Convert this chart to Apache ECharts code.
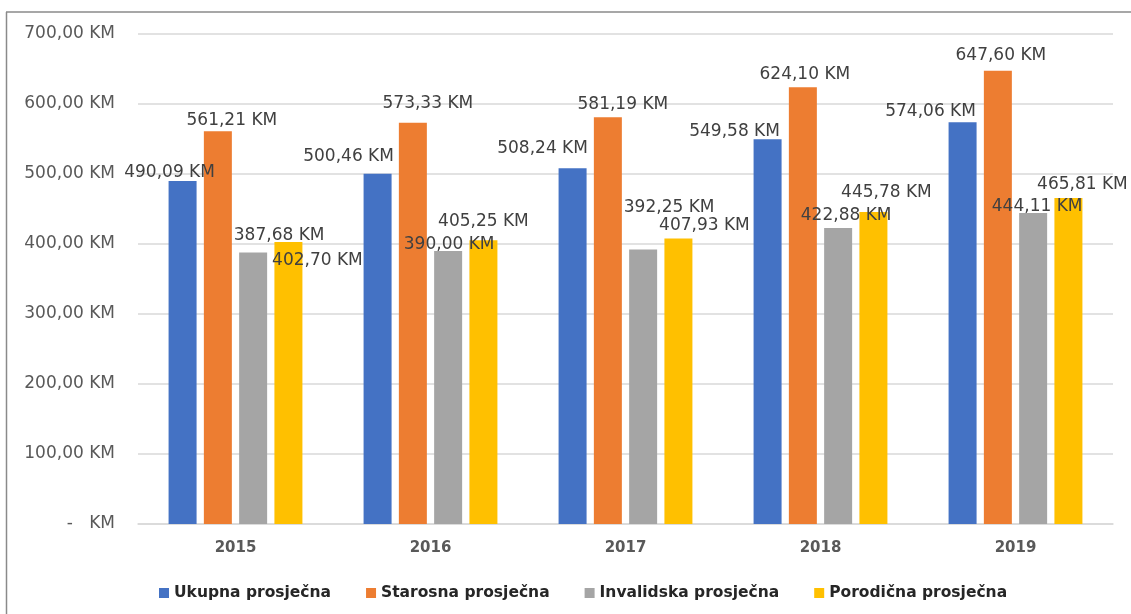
<!DOCTYPE html>
<html>
<head>
<meta charset="utf-8">
<script src="https://cdn.jsdelivr.net/npm/echarts@6/dist/echarts.min.js"></script>
<style>
html,body{margin:0;padding:0;background:#fff;}
#chart{width:1131px;height:614px;}
</style>
</head>
<body>
<div id="chart"></div>
<script>
var categories = ['2015', '2016', '2017', '2018', '2019'];
var seriesNames = ['Ukupna prosječna', 'Starosna prosječna', 'Invalidska prosječna', 'Porodična prosječna'];
var ukupna = [490.09, 500.46, 508.24, 549.58, 574.06];
var starosna = [561.21, 573.33, 581.19, 624.10, 647.60];
var invalidska = [387.68, 390.00, 392.25, 422.88, 444.11];
var porodicna = [402.70, 405.25, 407.93, 445.78, 465.81];
var yTicks = [0, 100, 200, 300, 400, 500, 600, 700];

// label placement tweaks (layout only), [dx, dy] per bar
var offUkupna = [[-13, 5], [-29, -4], [-30, -6], [-33, 6], [-32, 3]];
var offStarosna = [[14, 3], [15, -6], [15, 1], [2, 1], [3, -2]];
var offInvalidska = [[26, -4], [1, 7], [26, -28], [8, 1], [4, 7]];
var offPorodicna = [[29, 32], [0, -5], [26, 1], [13, -6], [14, 0]];

var colors = ['#4472C4', '#ED7D31', '#A5A5A5', '#FFC000'];
var FONT = 'DejaVu Sans';

function fmt(v) {
  if (v === 0) return '-   KM';
  return v.toFixed(2).replace('.', ',') + ' KM';
}

function mkData(vals, offs) {
  return vals.map(function (v, i) {
    return { value: v, label: { offset: offs[i] } };
  });
}

var allVals = [ukupna, starosna, invalidska, porodicna];
var allOffs = [offUkupna, offStarosna, offInvalidska, offPorodicna];

var series = seriesNames.map(function (name, k) {
  return {
    name: name,
    type: 'bar',
    barWidth: 28,
    barGap: '26%',
    itemStyle: { color: colors[k] },
    label: {
      show: true,
      position: 'top',
      distance: 5,
      fontFamily: FONT,
      fontSize: 17,
      color: '#404040',
      formatter: function (p) { return fmt(p.value); }
    },
    data: mkData(allVals[k], allOffs[k])
  };
});

var chart = echarts.init(document.getElementById('chart'), null, { renderer: 'canvas' });
chart.setOption({
  animation: false,
  backgroundColor: '#ffffff',
  color: colors,
  grid: { left: 138, right: 18, top: 34, bottom: 90, containLabel: false },
  legend: {
    data: seriesNames,
    left: 154,
    top: 580,
    icon: 'rect',
    itemWidth: 10,
    itemHeight: 10,
    itemGap: 35,
    textStyle: { fontFamily: FONT, fontSize: 15.5, fontWeight: 'bold', color: '#262626', padding: [0, 0, 0, 0] }
  },
  xAxis: {
    type: 'category',
    data: categories,
    axisLine: { show: true, lineStyle: { color: '#d9d9d9', width: 1.5 } },
    axisTick: { show: false },
    axisLabel: { fontFamily: FONT, fontSize: 15, fontWeight: 'bold', color: '#595959', margin: 17 }
  },
  yAxis: {
    type: 'value',
    min: yTicks[0],
    max: yTicks[yTicks.length - 1],
    interval: 100,
    axisLine: { show: false },
    axisTick: { show: false },
    splitLine: { lineStyle: { color: '#d9d9d9', width: 1.5 } },
    axisLabel: {
      fontFamily: FONT, fontSize: 17, color: '#595959', margin: 23,
      formatter: function (v) { return fmt(v); }
    }
  },
  graphic: [
    { type: 'line', shape: { x1: 6, y1: 12, x2: 1131, y2: 12 }, style: { stroke: '#8a8a8a', lineWidth: 1.5 } },
    { type: 'line', shape: { x1: 6.5, y1: 12, x2: 6.5, y2: 614 }, style: { stroke: '#8a8a8a', lineWidth: 1.5 } }
  ],
  series: series
});
</script>
</body>
</html>
